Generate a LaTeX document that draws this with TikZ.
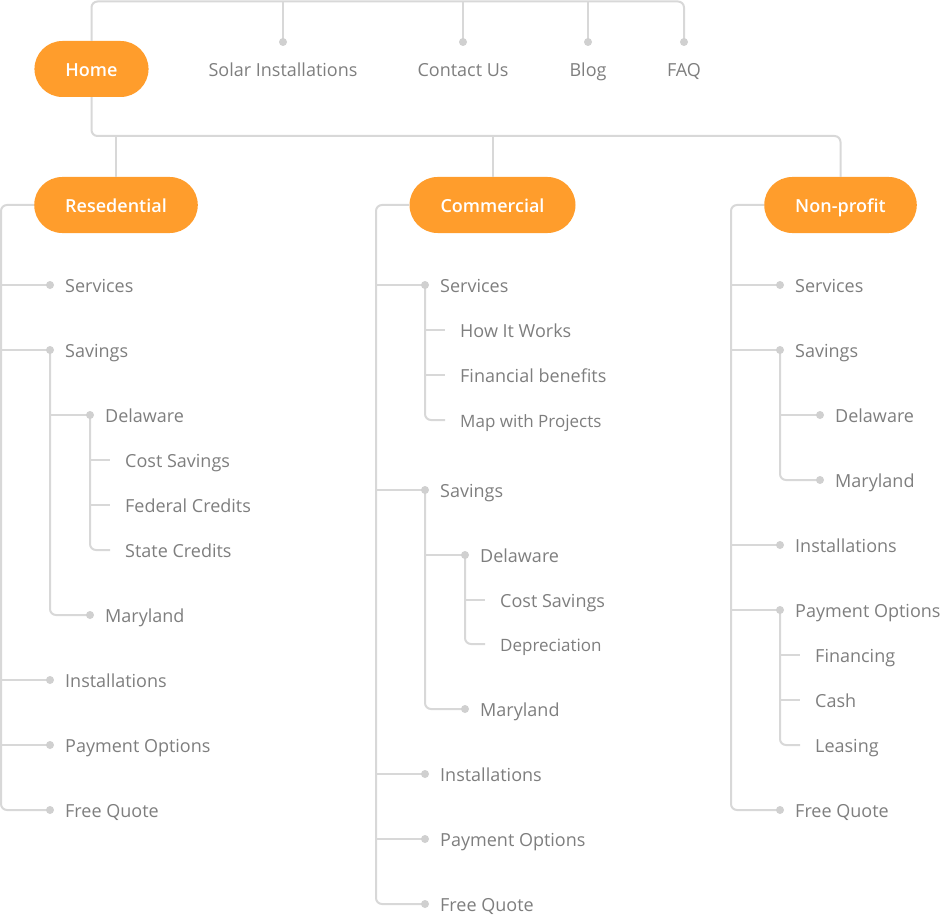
\documentclass[tikz,border=0pt]{standalone}
\usepackage{fontspec}
\setmainfont{Open Sans}
\newfontfamily\pillface{Open Sans Semibold}
\usetikzlibrary{positioning}

\definecolor{brand}{HTML}{FF9D2C}
\definecolor{linegray}{HTML}{D8D8D8}
\definecolor{dotgray}{HTML}{D0D0D0}
\definecolor{txtgray}{HTML}{7E7E7E}

\begin{document}
\begin{tikzpicture}[
  x=1pt, y=-1pt,
  link/.style={draw=linegray, line width=2pt, rounded corners=6pt},
  dot/.style={fill=dotgray},
  pill/.style={fill=brand, rounded corners=28pt, minimum height=56pt,
    inner xsep=31pt, inner ysep=0pt, text=white, text height=14.9pt,
    text depth=0pt, font=\fontsize{18}{21}\pillface},
  item/.style={anchor=west, text=txtgray, inner sep=0pt, text height=14.8pt,
    text depth=0pt, font=\fontsize{18}{22}\selectfont},
  small/.style={font=\fontsize{17}{20}\selectfont},
  top/.style={item, anchor=center},
  node distance=15pt]
\useasboundingbox (0,0) rectangle (941,917);

% header
\coordinate (top) at (0,1.5);
\coordinate (mid) at (0,136);
\node[pill] (home) at (91.5,69) {Home};
\foreach \n/\x/\t in {solar/283/Solar Installations, contact/463/Contact Us,
    blog/588/Blog, faq/684/FAQ} {
  \coordinate (\n) at (\x,42);
  \node[top] (\n-t) at (\x,69) {\t};
}
\draw[link] (home.north) -- (home.north |- top) -| (faq);
\foreach \n in {solar,contact,blog}
  \draw[link] (\n |- top) -- (\n);

\node[pill] (res) at (116,205) {Resedential};
\node[pill] (com) at (492.5,205) {Commercial};
\node[pill] (np) at (840.5,205) {Non-profit};
\draw[link] (home.south) -- (home.south |- mid) -| (np.north);
\foreach \n in {res,com}
  \draw[link] (\n.north |- mid) -- (\n.north);

% residential
\coordinate (res-t) at (1,205);
\foreach \n/\x/\y/\t in {serv/50/285/Services, sav/50/350/Savings,
    de/90/415/Delaware, cs/110/460/Cost Savings, fc/110/505/Federal Credits,
    sc/110/550/State Credits, md/90/615/Maryland, inst/50/680/Installations,
    pay/50/745/Payment Options, fq/50/810/Free Quote} {
  \coordinate (res-\n) at (\x,\y);
  \node[item, right=of res-\n] (res-\n-t) {\t};
}
\draw[link] (res.west) -- (res-t) |- (res-fq);
\foreach \n in {serv,sav,inst,pay}
  \draw[link] (res-t |- res-\n) -- (res-\n);
\draw[link] (res-sav) |- (res-md);
\draw[link] (res-sav |- res-de) -- (res-de);
\draw[link] (res-de) |- (res-sc);
\foreach \n in {cs,fc}
  \draw[link] (res-de |- res-\n) -- (res-\n);
\foreach \n in {serv,sav,de,md,inst,pay,fq}
  \fill[dot] (res-\n) circle (4pt);

% commercial
\coordinate (com-t) at (376,205);
\foreach \n/\x/\y/\t in {serv/425/285/Services, hiw/445/330/How It Works,
    fin/445/375/Financial benefits, sav/425/490/Savings,
    de/465/555/Delaware, cs/485/600/Cost Savings, md/465/709/Maryland,
    inst/425/774/Installations, pay/425/839/Payment Options,
    fq/425/904/Free Quote} {
  \coordinate (com-\n) at (\x,\y);
  \node[item, right=of com-\n] (com-\n-t) {\t};
}
\coordinate (com-map) at (445,420);
\node[item, small, right=of com-map] (com-map-t) {Map with Projects};
\coordinate (com-dep) at (485,644);
\node[item, small, right=of com-dep] (com-dep-t) {Depreciation};
\draw[link] (com.west) -- (com-t) |- (com-fq);
\foreach \n in {serv,sav,inst,pay}
  \draw[link] (com-t |- com-\n) -- (com-\n);
\draw[link] (com-serv) |- (com-map);
\foreach \n in {hiw,fin}
  \draw[link] (com-serv |- com-\n) -- (com-\n);
\draw[link] (com-sav) |- (com-md);
\draw[link] (com-sav |- com-de) -- (com-de);
\draw[link] (com-de) |- (com-dep);
\draw[link] (com-de |- com-cs) -- (com-cs);
\foreach \n in {serv,sav,de,md,inst,pay,fq}
  \fill[dot] (com-\n) circle (4pt);

% non-profit
\coordinate (np-t) at (731,205);
\foreach \n/\x/\y/\t in {serv/780/285/Services, sav/780/350/Savings,
    de/820/415/Delaware, md/820/480/Maryland, inst/780/545/Installations,
    pay/780/610/Payment Options, fin/800/655/Financing, cash/800/700/Cash,
    lea/800/745/Leasing, fq/780/810/Free Quote} {
  \coordinate (np-\n) at (\x,\y);
  \node[item, right=of np-\n] (np-\n-t) {\t};
}
\draw[link] (np.west) -- (np-t) |- (np-fq);
\foreach \n in {serv,sav,inst,pay}
  \draw[link] (np-t |- np-\n) -- (np-\n);
\draw[link] (np-sav) |- (np-md);
\draw[link] (np-sav |- np-de) -- (np-de);
\draw[link] (np-pay) |- (np-lea);
\foreach \n in {fin,cash}
  \draw[link] (np-pay |- np-\n) -- (np-\n);
\foreach \n in {serv,sav,de,md,inst,pay,fq}
  \fill[dot] (np-\n) circle (4pt);

\foreach \n in {solar,contact,blog,faq}
  \fill[dot] (\n) circle (4pt);
\end{tikzpicture}
\end{document}
